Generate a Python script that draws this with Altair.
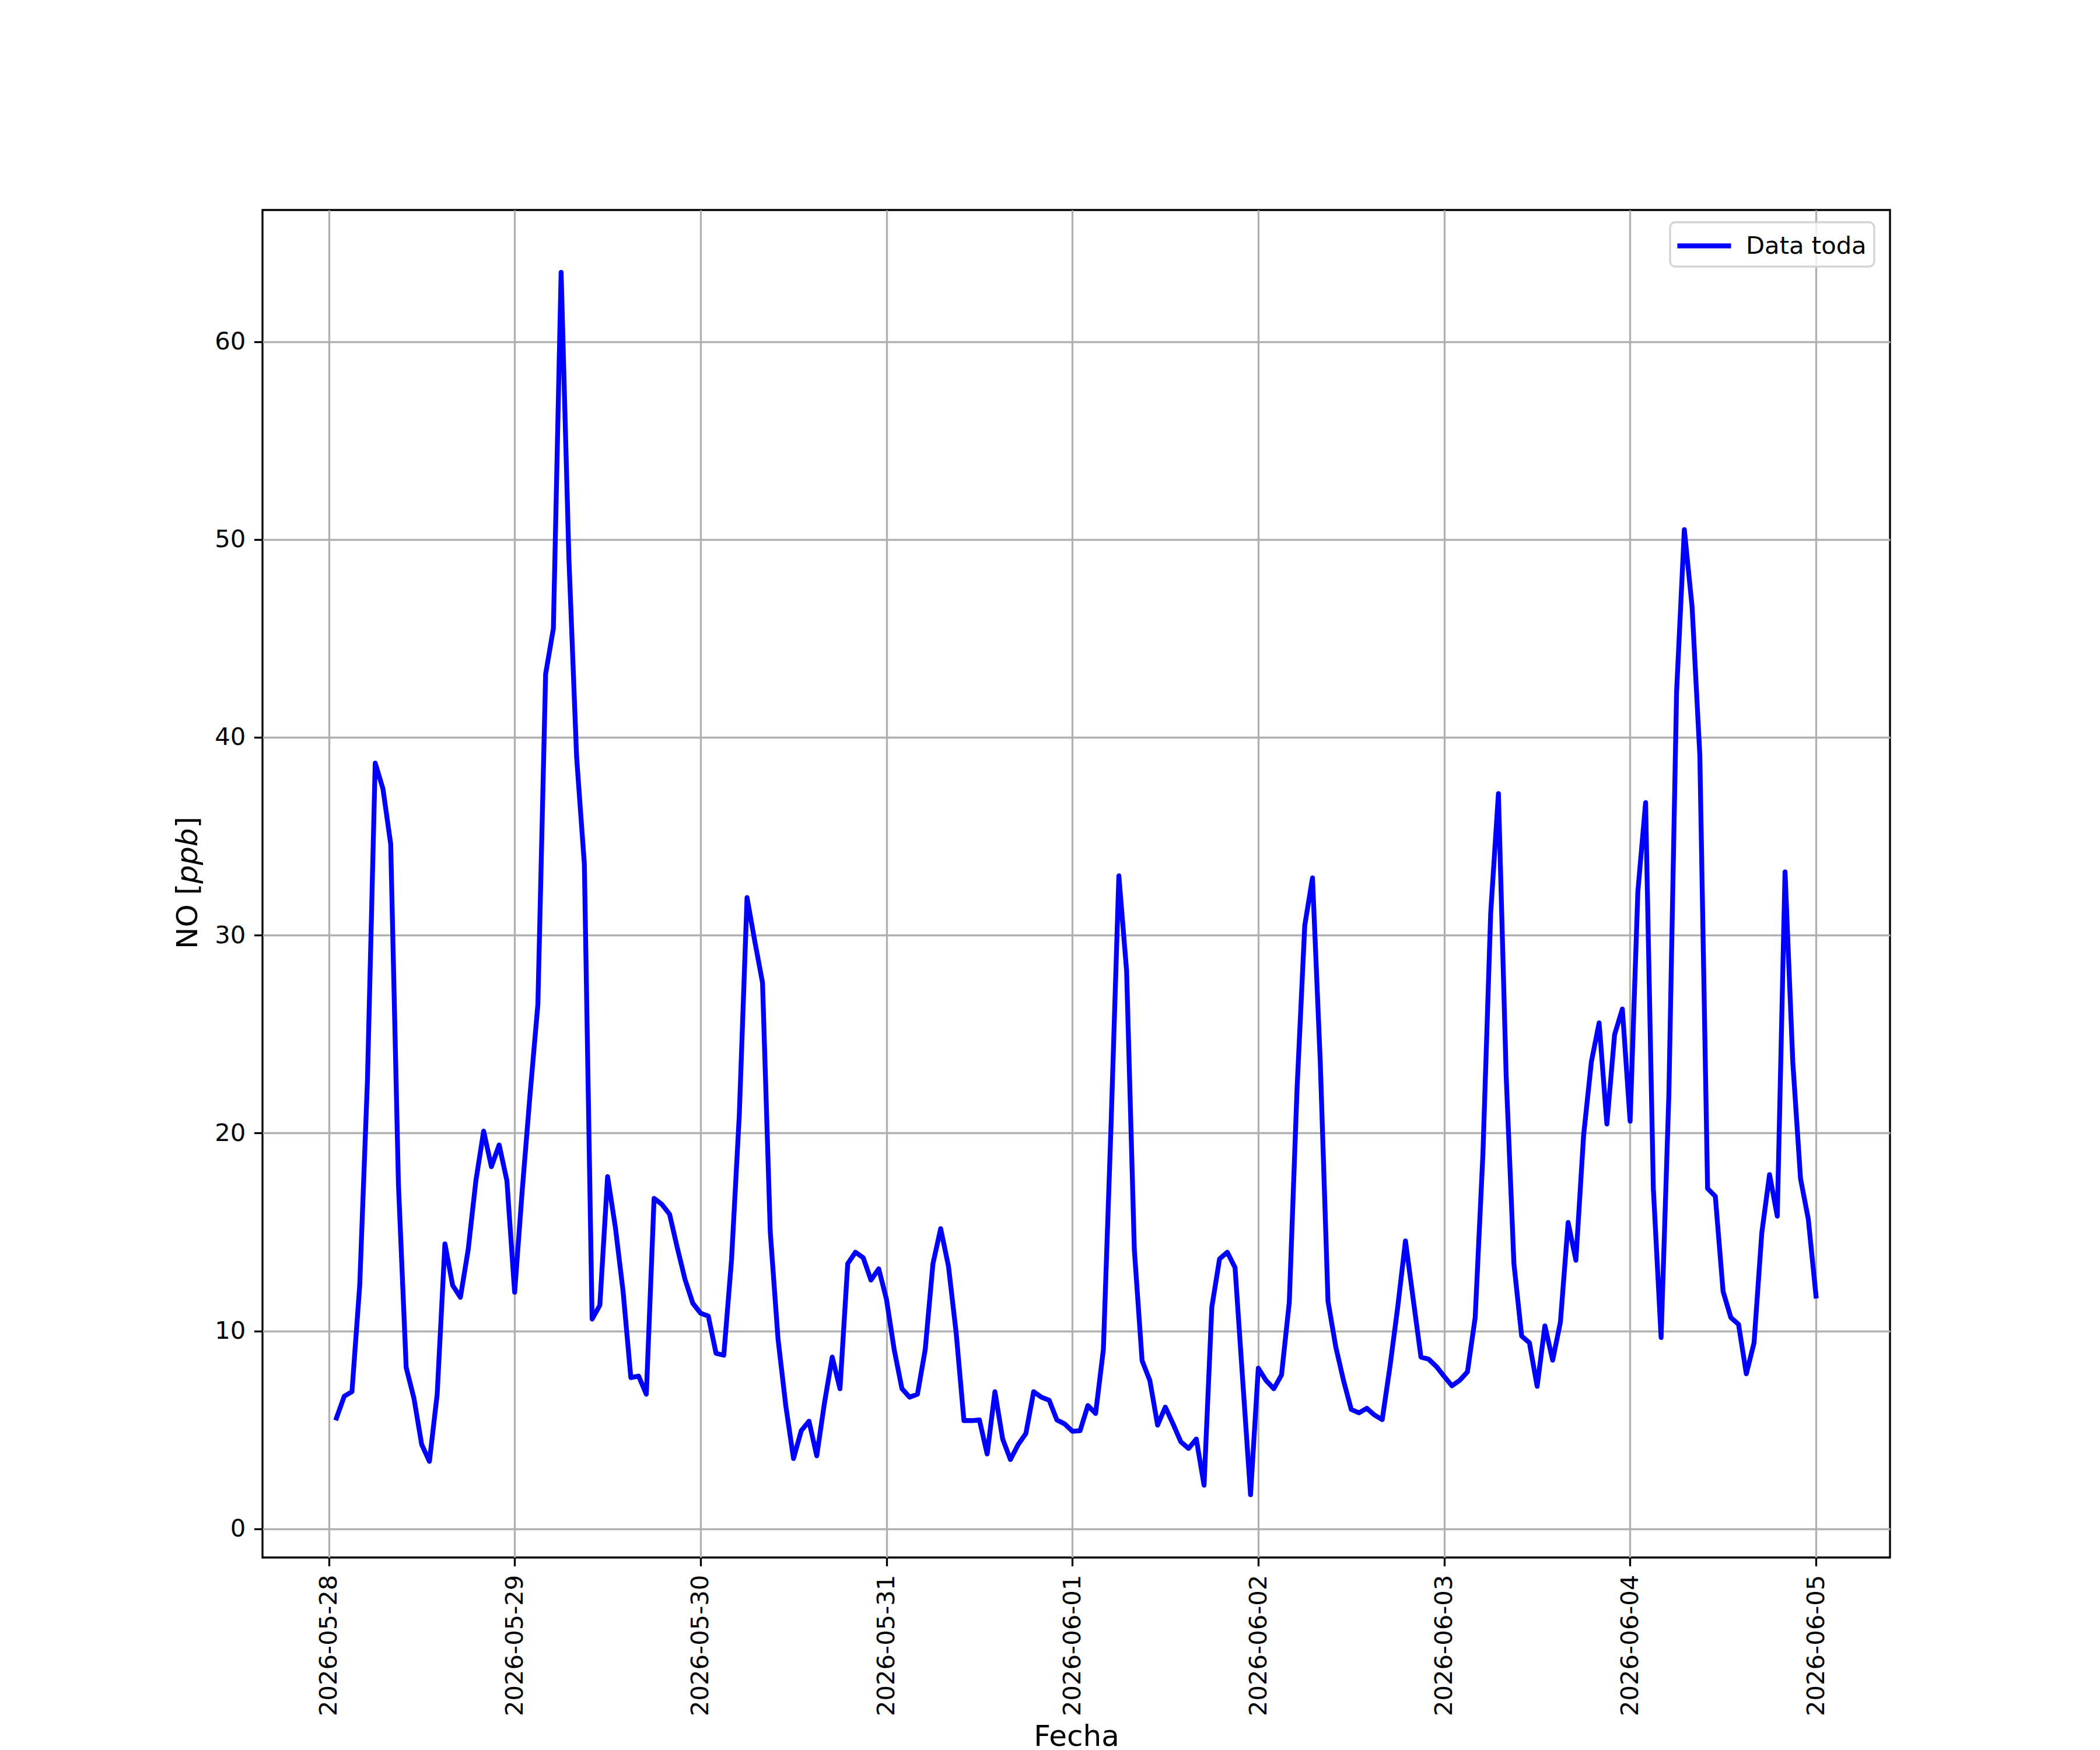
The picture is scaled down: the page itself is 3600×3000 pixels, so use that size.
import altair as alt
import pandas as pd

# Hourly NO concentrations [ppb], 2026-05-28 01:00 .. 2026-06-05 00:00
start = "2026-05-28 01:00"
no_ppb = [
    5.6, 6.7, 6.93, 12.3, 22.7, 38.7, 37.4, 34.6, 17.4, 8.15, 6.6, 4.26,
    3.41, 6.8, 14.4, 12.3, 11.7, 14.1, 17.6, 20.1, 18.3, 19.4, 17.6, 11.95,
    17.2, 22.0, 26.5, 43.2, 45.5, 63.5, 49.1, 39.0, 33.6, 10.6, 11.3, 17.8,
    15.25, 12.0, 7.64, 7.72, 6.8, 16.7, 16.4, 15.9, 14.2, 12.6, 11.4, 10.9,
    10.75, 8.87, 8.77, 13.6, 20.9, 31.9, 29.7, 27.6, 15.0, 9.6, 6.23, 3.55,
    4.96, 5.44, 3.69, 6.37, 8.68, 7.08, 13.4, 13.98, 13.7, 12.57, 13.14, 11.6,
    9.05, 7.08, 6.65, 6.8, 9.05, 13.4, 15.17, 13.28, 9.9, 5.47, 5.47, 5.5,
    3.78, 6.93, 4.54, 3.5, 4.26, 4.82, 6.93, 6.65, 6.5, 5.5, 5.3, 4.93,
    4.96, 6.23, 5.83, 9.05, 20.5, 33.0, 28.2, 14.1, 8.5, 7.5, 5.24, 6.15,
    5.3, 4.4, 4.06, 4.54, 2.2, 11.2, 13.64, 13.98, 13.2, 7.44, 1.72, 8.12,
    7.5, 7.08, 7.78, 11.44, 22.2, 30.5, 32.9, 23.6, 11.5, 9.2, 7.5, 6.03,
    5.86, 6.09, 5.75, 5.52, 8.2, 11.2, 14.55, 11.6, 8.68, 8.57, 8.2, 7.7,
    7.23, 7.5, 7.93, 10.68, 18.96, 31.1, 37.16, 22.9, 13.4, 9.74, 9.4, 7.2,
    10.26, 8.52, 10.44, 15.48, 13.57, 19.9, 23.6, 25.57, 20.46, 24.98, 26.27, 20.6,
    32.2, 36.7, 17.2, 9.67, 21.9, 42.3, 50.5, 46.6, 39.1, 17.2, 16.8, 12.0,
    10.68, 10.33, 7.83, 9.4, 14.96, 17.9, 15.8, 33.2, 23.6, 17.7, 15.66, 11.76,
]
series_name = "Data toda"
y_ticks = [0, 10, 20, 30, 40, 50, 60]
day_ticks = [(5, 28), (5, 29), (5, 30), (5, 31), (6, 1), (6, 2), (6, 3), (6, 4), (6, 5)]
y_title_parts = ["NO [", "ppb", "]"]   # "ppb" drawn in italic, as in the original mathtext label

times = pd.date_range(start, periods=len(no_ppb), freq="h")
df = pd.DataFrame({
    "Fecha": [t.strftime("%Y-%m-%dT%H:%M:%S") for t in times],
    "NO": no_ppb,
    "serie": series_name,
})

FONT = "DejaVu Sans"
FS = 41.7      # 10 pt at 300 dpi
FS_T = 50.0    # 12 pt at 300 dpi

x_axis = alt.Axis(
    title="Fecha",
    values=[alt.DateTime(year=2026, month=m, date=d) for m, d in day_ticks],
    format="%Y-%m-%d",
    labelAngle=270,
    labelAlign="right",
    labelBaseline="middle",
    labelFont=FONT, labelFontSize=FS, labelColor="black", labelLimit=0,
    titleFont=FONT, titleFontSize=FS_T, titleColor="black", titleFontWeight="normal",
    titleBaseline="alphabetic", titleY=322,
    tickSize=14.6, tickWidth=3.3, tickColor="black",
    labelPadding=14.6,
    grid=True, gridColor="#b0b0b0", gridWidth=3.3,
    domain=False, labelOverlap=False, labelFlush=False,
)
y_axis = alt.Axis(
    title=None,
    values=y_ticks,
    format="d",
    labelFont=FONT, labelFontSize=FS, labelColor="black",
    tickSize=14.6, tickWidth=3.3, tickColor="black",
    labelPadding=14.6,
    grid=True, gridColor="#b0b0b0", gridWidth=3.3,
    domain=False, labelFlush=False,
)

line = alt.Chart(df).mark_line(
    strokeWidth=8.3, strokeJoin="round", strokeCap="square"
).encode(
    x=alt.X("Fecha:T", axis=x_axis, scale=alt.Scale(
        domain=[alt.DateTime(year=2026, month=5, date=27, hours=15, minutes=27),
                alt.DateTime(year=2026, month=6, date=5, hours=9, minutes=33)],
        nice=False)),
    y=alt.Y("NO:Q", axis=y_axis, scale=alt.Scale(domain=[-1.45, 66.65], nice=False, zero=False)),
    color=alt.Color("serie:N", scale=alt.Scale(range=["#0000ff"]), legend=alt.Legend(
        title=None, orient="none", legendX=2413, legendY=21,
        symbolType="M-2,0L2,0", symbolSize=2116, symbolStrokeWidth=8.3,
        symbolOffset=18,
        labelFont=FONT, labelFontSize=FS, labelColor="black", labelOffset=44,
        labelLimit=0,
        padding=13, cornerRadius=9, strokeColor="#d4d4d4",
        fillColor="rgba(255,255,255,0.8)",
    )),
)

# y-axis title, in three pieces so that "ppb" is italic
title_y0 = 1267.0
piece_w = [112.2, 95.2, 19.5]
pieces = []
ypos = title_y0
for txt, w, style in zip(y_title_parts, piece_w, ["normal", "italic", "normal"]):
    pieces.append(
        alt.Chart(pd.DataFrame({"t": [txt]})).mark_text(
            angle=270, align="left", baseline="alphabetic",
            font=FONT, fontSize=FS_T, fontStyle=style, color="black",
        ).encode(text="t:N", x=alt.value(-112), y=alt.value(ypos))
    )
    ypos -= w

chart = alt.layer(line, *pieces).properties(
    width=2790, height=2310,
    autosize=alt.AutoSizeParams(type="none"),
    padding={"left": 442, "top": 352, "right": 340, "bottom": 336},
    background="white",
).configure_view(
    stroke="black", strokeWidth=3.3, fill="white"
).configure_legend(strokeWidth=3.3)

chart.save("out.html", embed_options={"renderer": "svg", "actions": False})
